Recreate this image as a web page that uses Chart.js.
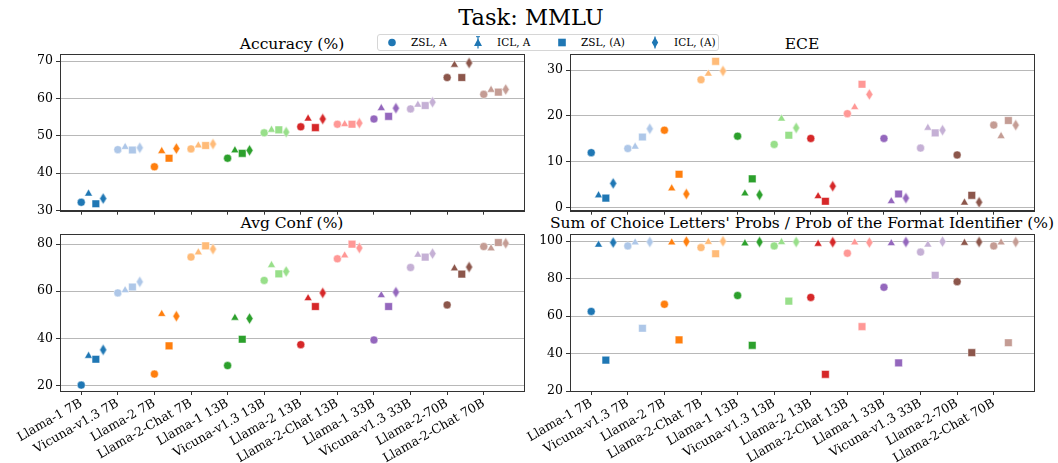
<!DOCTYPE html>
<html>
<head>
<meta charset="utf-8">
<script src="https://cdn.jsdelivr.net/npm/chart.js@4.4.0/dist/chart.umd.min.js"></script>
<style>
  body { margin: 0; width: 1058px; height: 463px; background: #fff; position: relative; overflow: hidden; font-family: 'DejaVu Serif', serif; color: #000; }
  canvas { position: absolute; }
  .ttl { position: absolute; white-space: nowrap; transform: translateX(-50%); font-size: 15.5px; line-height: 18px; }
  #main { font-size: 22.5px; line-height: 26px; top: 4px; left: 531px; }
  #legend { position: absolute; left: 377px; top: 34px; width: 340px; height: 15px; border: 1px solid #d6d6d6; border-radius: 3px; background: #fff; font-size: 10.5px; z-index: 2; }
  #legend span { position: absolute; top: 1px; line-height: 13px; }
  #legend svg { position: absolute; top: 1px; }
</style>
</head>
<body>
<div class="ttl" id="main">Task: MMLU</div>
<div class="ttl" style="left:292px;top:35px">Accuracy (%)</div>
<div class="ttl" style="left:802px;top:35px">ECE</div>
<div class="ttl" style="left:292px;top:214px">Avg Conf (%)</div>
<div class="ttl" style="left:802px;top:214px">Sum of Choice Letters' Probs / Prob of the Format Identifier (%)</div>

<div id="legend">
  <svg style="left:8px" width="12" height="13"><circle cx="6" cy="6.5" r="3.8" fill="#1f77b4"/></svg>
  <span style="left:33px">ZSL, A</span>
  <svg style="left:94px" width="12" height="13"><line x1="6" y1="0.5" x2="6" y2="12.5" stroke="#1f77b4" stroke-width="1.2"/><line x1="4" y1="0.7" x2="8" y2="0.7" stroke="#1f77b4"/><polygon points="6,2.5 10,10 2,10" fill="#1f77b4"/></svg>
  <span style="left:119px">ICL, A</span>
  <svg style="left:178px" width="12" height="13"><rect x="2.2" y="2.7" width="7.6" height="7.6" fill="#1f77b4"/></svg>
  <span style="left:203px">ZSL, (A)</span>
  <svg style="left:271px" width="12" height="13"><line x1="6" y1="0.5" x2="6" y2="12.5" stroke="#1f77b4" stroke-width="1.2"/><polygon points="6,1 9.2,6.5 6,12 2.8,6.5" fill="#1f77b4"/></svg>
  <span style="left:296px">ICL, (A)</span>
</div>

<canvas id="acc" width="540" height="172" style="left:0;top:48px"></canvas>
<canvas id="ece" width="558" height="172" style="left:500px;top:48px"></canvas>
<canvas id="conf" width="540" height="235" style="left:0;top:228px"></canvas>
<canvas id="sum" width="558" height="235" style="left:500px;top:228px"></canvas>

<script>
const models = ['Llama-1 7B', 'Vicuna-v1.3 7B', 'Llama-2 7B', 'Llama-2-Chat 7B',
  'Llama-1 13B', 'Vicuna-v1.3 13B', 'Llama-2 13B', 'Llama-2-Chat 13B',
  'Llama-1 33B', 'Vicuna-v1.3 33B', 'Llama-2-70B', 'Llama-2-Chat 70B'];
const series = ['ZSL, A', 'ICL, A', 'ZSL, (A)', 'ICL, (A)'];
const modelColors = ['#1f77b4', '#aec7e8', '#ff7f0e', '#ffbb78', '#2ca02c', '#98df8a',
  '#d62728', '#ff9896', '#9467bd', '#c5b0d5', '#8c564b', '#c49c94'];

// Accuracy (%)
const accZslA = [32.2, 46.3, 41.7, 46.5, 44.0, 50.8, 52.4, 53.1, 54.5, 57.2, 65.6, 61.1];
const accIclA = [34.5, 47.0, 45.9, 47.4, 46.1, 51.6, 54.6, 53.1, 57.4, 58.3, 69.0, 62.3];
const accZslP = [31.8, 46.2, 44.0, 47.4, 45.3, 51.6, 52.2, 53.1, 55.2, 58.1, 65.6, 61.7];
const accIclP = [33.2, 46.8, 46.6, 47.8, 46.1, 51.0, 54.5, 53.4, 57.4, 59.0, 69.5, 62.4];
// ECE
const eceZslA = [12.0, 12.9, 16.9, 27.9, 15.6, 13.8, 15.1, 20.5, 15.1, 13.0, 11.5, 18.0];
const eceIclA = [2.7, 13.3, 4.2, 29.2, 3.1, 19.4, 2.5, 21.9, 1.4, 17.4, 1.1, 15.6];
const eceZslP = [2.1, 15.4, 7.3, 31.9, 6.3, 15.8, 1.4, 26.9, 3.0, 16.3, 2.7, 19.0];
const eceIclP = [5.3, 17.2, 3.0, 29.8, 2.8, 17.4, 4.7, 24.7, 2.1, 16.9, 1.2, 18.0];
// Avg Conf (%)
const confZslA = [20.1, 59.3, 24.8, 74.5, 28.4, 64.6, 37.3, 73.8, 39.3, 70.1, 54.2, 79.0];
const confIclA = [32.5, 60.4, 50.3, 76.5, 48.7, 71.1, 57.0, 75.2, 58.3, 75.5, 69.7, 78.2];
const confZslP = [31.1, 61.8, 36.8, 79.3, 39.6, 67.4, 53.5, 80.0, 53.5, 74.5, 67.3, 80.7];
const confIclP = [35.1, 64.0, 49.4, 77.9, 48.4, 68.4, 59.3, 78.4, 59.6, 76.0, 70.3, 80.4];
// Sum of choice letters' probs / prob of the format identifier (%)
const sumZslA = [62.5, 97.5, 66.3, 96.6, 71.0, 97.5, 70.0, 93.6, 75.4, 94.2, 78.4, 97.5];
const sumIclA = [98.1, 99.3, 99.3, 99.6, 98.8, 99.5, 98.6, 99.3, 98.9, 98.2, 99.1, 99.3];
const sumZslP = [36.5, 53.5, 47.3, 93.3, 44.4, 68.0, 28.9, 54.4, 35.0, 81.8, 40.5, 45.8];
const sumIclP = [99.3, 99.6, 99.8, 100.0, 99.6, 99.6, 99.5, 99.3, 99.6, 99.8, 99.6, 99.6];

const accTicks = [30, 40, 50, 60, 70];
const eceTicks = [0, 10, 20, 30];
const confTicks = [20, 40, 60, 80];
const sumTicks = [20, 40, 60, 80, 100];

const FONT = 'DejaVu Serif';
const offsets = [0, 0.2, 0.4, 0.6];

function makeDiamond(color) {
  const c = document.createElement('canvas');
  c.width = 9; c.height = 13;
  const g = c.getContext('2d');
  g.beginPath();
  g.moveTo(4.5, 0.8); g.lineTo(8, 6.5); g.lineTo(4.5, 12.2); g.lineTo(1, 6.5);
  g.closePath();
  g.fillStyle = color; g.fill();
  g.strokeStyle = 'rgba(255,255,255,0.8)'; g.lineWidth = 0.6; g.stroke();
  return c;
}
const diamonds = modelColors.map(makeDiamond);

const boxPlugin = {
  id: 'box',
  afterDraw(chart) {
    const a = chart.chartArea, ctx = chart.ctx;
    ctx.save();
    ctx.strokeStyle = '#333';
    ctx.lineWidth = 1;
    ctx.strokeRect(Math.round(a.left) + 0.5, Math.round(a.top) + 0.5,
      Math.round(a.right - a.left), Math.round(a.bottom - a.top));
    ctx.restore();
  }
};

function build(id, lists, yMin, yMax, yTicks, cfg) {
  const styles = ['circle', 'triangle', 'rect'];
  const radii = [4, 4.6, 5.4, 5];
  const datasets = lists.map((vals, s) => ({
    label: series[s],
    data: vals.map((v, i) => ({ x: i + offsets[s], y: v })),
    showLine: false,
    pointStyle: s === 3 ? diamonds : styles[s],
    pointRadius: radii[s],
    pointBackgroundColor: modelColors,
    pointBorderColor: 'rgba(255,255,255,0.8)',
    pointBorderWidth: 0.6,
    order: 3 - s
  }));
  new Chart(document.getElementById(id), {
    type: 'scatter',
    data: { datasets },
    options: {
      responsive: false,
      animation: false,
      events: [],
      layout: { padding: { top: cfg.top, right: cfg.right, left: 0, bottom: 0 } },
      plugins: { legend: { display: false }, tooltip: { enabled: false } },
      scales: {
        x: {
          type: 'linear', min: -0.58, max: 12.1,
          afterBuildTicks: s => { s.ticks = models.map((m, i) => ({ value: i })); },
          afterFit: s => { s.height = cfg.xh; s.paddingLeft = 0; s.paddingRight = 0; },
          ticks: {
            autoSkip: false, minRotation: 30, maxRotation: 30, padding: 1, color: '#000',
            font: { family: FONT, size: 12.5 },
            callback: v => cfg.labels ? models[v] : ''
          },
          grid: { drawOnChartArea: false, drawTicks: true, tickLength: 4, tickColor: '#333' },
          border: { color: '#333' }
        },
        y: {
          min: yMin, max: yMax,
          afterBuildTicks: s => { s.ticks = yTicks.map(v => ({ value: v })); },
          afterFit: s => { s.width = cfg.yw; s.paddingTop = 0; s.paddingBottom = 0; },
          ticks: { padding: 3, color: '#000', font: { family: FONT, size: 12.5 } },
          grid: { color: '#b8b8b8', lineWidth: 1, tickLength: 4, tickColor: '#333' },
          border: { color: '#333' }
        }
      }
    },
    plugins: [boxPlugin]
  });
}

build('acc', [accZslA, accIclA, accZslP, accIclP], 29.95, 71.9, accTicks,
  { top: 5.3, right: 16, xh: 9.3, yw: 60, labels: false });
build('ece', [eceZslA, eceIclA, eceZslP, eceIclP], -0.65, 33.5, eceTicks,
  { top: 5.3, right: 24, xh: 9.3, yw: 70, labels: false });
build('conf', [confZslA, confIclA, confZslP, confIclP], 17.6, 84.2, confTicks,
  { top: 6.3, right: 16, xh: 72, yw: 60, labels: true });
build('sum', [sumZslA, sumIclA, sumZslP, sumIclP], 20, 103.7, sumTicks,
  { top: 6.3, right: 24, xh: 72, yw: 70, labels: true });
</script>
</body>
</html>
